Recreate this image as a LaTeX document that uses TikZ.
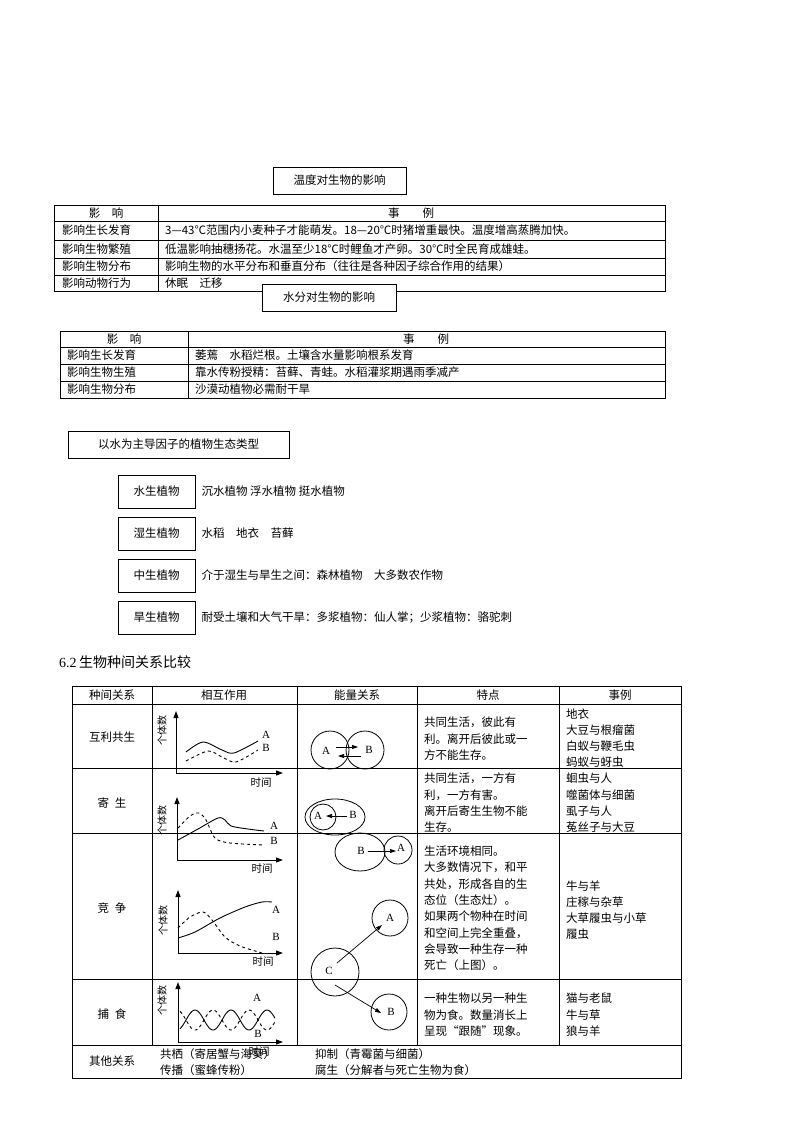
\documentclass[tikz,border=0pt]{standalone}
\usepackage{fontspec}
\setmainfont{Noto Sans CJK SC}
\newfontfamily\lat{Liberation Serif}
\usetikzlibrary{arrows.meta}
\begin{document}
\begin{tikzpicture}[x=1pt,y=-1pt,font=\fontsize{11.5}{13}\selectfont,
 t/.style={anchor=west,inner sep=0pt},
 c/.style={inner sep=0pt},
 tbox/.style={draw,line width=0.9pt,fill=white,inner sep=0pt},
 ln/.style={line width=0.6pt},
 ax/.style={line width=1pt,-{Triangle[length=7pt,width=5pt]}},
 ar/.style={line width=0.7pt,-{Triangle[length=6pt,width=4pt]}},
 lab/.style={inner sep=0pt,font=\lat\fontsize{11}{12}\selectfont},
 vt/.style={inner sep=0pt,rotate=90,font=\fontsize{10}{11}\selectfont},
 sm/.style={inner sep=0pt,font=\fontsize{10.5}{12}\selectfont}]
\useasboundingbox[fill=white] (0,0) rectangle (800,1132);

% ---------- Table 1
\draw[ln] (54,205) rectangle (665,291);
\foreach \y in {221,240,258,275} \draw[ln] (54,\y) -- (665,\y);
\draw[ln] (158,205) -- (158,291);
\node[c] (h1a) at (106,213) {影\quad 响};
\node[c] (h1b) at (411,213) {事\qquad 例};
\node[t] (r1a) at (62,230) {影响生长发育};
\node[t] (r1b) at (62,249) {影响生物繁殖};
\node[t] (r1c) at (62,266) {影响生物分布};
\node[t] (r1d) at (62,283) {影响动物行为};
\node[t] (e1a) at (165,230) {3—43℃范围内小麦种子才能萌发。18—20℃时猪增重最快。温度增高蒸腾加快。};
\node[t] (e1b) at (165,249) {低温影响抽穗扬花。水温至少18℃时鲤鱼才产卵。30℃时全民育成雄蛙。};
\node[t] (e1c) at (165,266) {影响生物的水平分布和垂直分布（往往是各种因子综合作用的结果）};
\node[t] (e1d) at (165,283) {休眠\quad 迁移};
\node[tbox,minimum width=133pt,minimum height=27pt] (T1) at (339.5,180.5) {温度对生物的影响};
\node[tbox,minimum width=134pt,minimum height=27pt] (T2) at (329,297.5) {水分对生物的影响};

% ---------- Table 2
\draw[ln] (60,331) rectangle (665,398);
\foreach \y in {347,364,381} \draw[ln] (60,\y) -- (665,\y);
\draw[ln] (188,331) -- (188,398);
\node[c] (h2a) at (124,339) {影\quad 响};
\node[c] (h2b) at (426,339) {事\qquad 例};
\node[t] (r2a) at (67,355.5) {影响生长发育};
\node[t] (r2b) at (67,372.5) {影响生物生殖};
\node[t] (r2c) at (67,389.5) {影响生物分布};
\node[t] (e2a) at (195,355.5) {萎蔫\quad 水稻烂根。土壤含水量影响根系发育};
\node[t] (e2b) at (195,372.5) {靠水传粉授精：苔藓、青蛙。水稻灌浆期遇雨季减产};
\node[t] (e2c) at (195,389.5) {沙漠动植物必需耐干旱};

% ---------- plant types
\node[tbox,minimum width=221pt,minimum height=27pt] (T3) at (178.5,444.5) {以水为主导因子的植物生态类型};
\foreach \n/\y/\a/\b in {p1/491.5/水生植物/沉水植物 浮水植物 挺水植物,
 p2/533.5/湿生植物/水稻\quad 地衣\quad 苔藓,
 p3/575.5/中生植物/介于湿生与旱生之间：森林植物\quad 大多数农作物,
 p4/617.5/旱生植物/耐受土壤和大气干旱：多浆植物：仙人掌；少浆植物：骆驼刺}{
 \node[tbox,minimum width=77pt,minimum height=33pt] (\n) at (156.5,\y) {\a};
 \node[t] (\n t) at ([xshift=6pt]\n.east) {\b};
}

\node[t,font=\fontsize{14}{16}\selectfont] (sec) at (59,662) {\lat 6.2\,\rmfamily 生物种间关系比较};

% ---------- Big table
\draw[ln] (72,686) rectangle (681,1078);
\foreach \y in {704,768,833,979,1045} \draw[ln] (72,\y) -- (681,\y);
\foreach \x in {152,297,417,559} \draw[ln] (\x,686) -- (\x,1045);
\node[c] (H1) at (112,695) {种间关系};
\node[c] (H2) at (224,695) {相互作用};
\node[c] (H3) at (357,695) {能量关系};
\node[c] (H4) at (488,695) {特点};
\node[c] (H5) at (620,695) {事例};
\node[c] (K1) at (112,737) {互利共生};
\node[c] (K2) at (112,803) {寄\enspace 生};
\node[c] (K3) at (112,908) {竞\enspace 争};
\node[c] (K4) at (112,1014) {捕\enspace 食};
\node[c] (K5) at (112,1061) {其他关系};

% graph 1
\coordinate (o1) at (176,773);
\draw[ax] (o1) -- (176,711);
\draw[ax] (o1) -- (283,773);
\node[vt] (v1) at (162,730) {个体数};
\node[sm] (tm1) at (261,783) {时间};
\draw[line width=0.9pt] plot[smooth] coordinates {(186,752) (203,742) (222,750) (234,753) (258,741)};
\draw[line width=0.9pt,dashed] plot[smooth] coordinates {(186,761) (208,751) (222,757) (236,762) (258,750)};
\node[lab] (gA1) at (266,735) {A};
\node[lab] (gB1) at (266,748) {B};
% energy 1
\node[draw,circle,minimum size=38pt,line width=0.8pt] (cA1) at (330,750) {};
\node[draw,circle,minimum size=38pt,line width=0.8pt] (cB1) at (365,750) {};
\node[lab] at (326,751) {A};
\node[lab] at (369,750) {B};
\draw[ar] (336,747) -- (358,747);
\draw[ar] (361,756) -- (338,756);

% graph 2
\coordinate (o2) at (177,860);
\draw[ax] (o2) -- (177,797);
\draw[ax] (o2) -- (283,860);
\node[vt] (v2) at (162,820) {个体数};
\node[sm] (tm2) at (262,869) {时间};
\draw[line width=0.9pt] plot[smooth] coordinates {(178,840) (198,829) (218,818) (225,820) (231,826) (248,829) (264,831)};
\draw[line width=0.9pt,dashed] plot[smooth] coordinates {(178,828) (190,816) (199,813) (206,820) (215,838) (230,843) (264,845)};
\node[lab] (gA2) at (274,826) {A};
\node[lab] (gB2) at (274,841) {B};
% energy 2
\draw[line width=0.8pt] (335,817) ellipse (30pt and 18pt);
\node[draw,circle,minimum size=26pt,line width=0.8pt] (cA2) at (323,817) {};
\node[lab] (eA2) at (318,816) {A};
\node[lab] (eB2) at (353,815) {B};
\draw[ar] (347,816) -- (326,816);
% energy 3
\draw[line width=0.8pt] (360,852) ellipse (25pt and 19pt);
\node[draw,circle,minimum size=28pt,line width=0.8pt] (cA3) at (398,850) {};
\node[lab] (eB3) at (361,851) {B};
\node[lab] (eA3) at (401,848) {A};
\draw[ar] (368,851) -- (396,851);

% graph 3
\coordinate (o3) at (178,953);
\draw[ax] (o3) -- (178,890);
\draw[ax] (o3) -- (283,953);
\node[vt] (v3) at (163,920) {个体数};
\node[sm] (tm3) at (263,962) {时间};
\draw[line width=0.9pt] plot[smooth] coordinates {(178,938) (195,932) (220,918) (245,907) (262,902) (272,902)};
\draw[line width=0.9pt,dashed] plot[smooth] coordinates {(178,928) (190,917) (203,912) (212,920) (225,937) (240,946) (262,953)};
\node[lab] (gA3) at (276,910) {A};
\node[lab] (gB3) at (276,937) {B};
% energy 4
\node[draw,circle,minimum size=36pt,line width=0.8pt] (cA4) at (390,918) {};
\node[draw,circle,minimum size=48pt,line width=0.8pt] (cC4) at (335,972) {};
\node[draw,circle,minimum size=36pt,line width=0.8pt] (cB4) at (389,1012) {};
\node[lab] at (390,918) {A};
\node[lab] at (329,971) {C};
\node[lab] at (391,1012) {B};
\draw[ar] (337,963) -- (382,925);
\draw[ar] (335,985) -- (381,1013);

% graph 4
\coordinate (o4) at (178,1042);
\draw[ax] (o4) -- (178,982);
\draw[ax] (o4) -- (283,1042);
\node[vt] (v4) at (162,1000) {个体数};
\draw[line width=0.9pt] plot[domain=0:95,samples=80,smooth] ({180+\x},{1020-10*sin((\x-6)*10)});
\draw[line width=0.9pt,dashed] plot[domain=0:95,samples=80,smooth] ({180+\x},{1020+10*sin((\x-6)*10)});
\node[lab] (gA4) at (257,998) {A};
\node[lab] (gB4) at (258,1034) {B};
\node[sm] (tm4) at (259,1052) {时间};

% characteristics
\foreach \y/\s in {722/共同生活，彼此有, 739/利。离开后彼此或一, 755/方不能生存。,
 778/共同生活，一方有, 795/利，一方有害。, 811/离开后寄生生物不能, 827/生存。,
 851/生活环境相同。, 867/大多数情况下，和平, 884/共处，形成各自的生, 900/态位（生态灶）。,
 916/如果两个物种在时间, 933/和空间上完全重叠，, 949/会导致一种生存一种, 965/死亡（上图）。,
 998/一种生物以另一种生, 1015/物为食。数量消长上, 1031/呈现“跟随”现象。}
 {\node[t] at (424,\y) {\s};}
\foreach \y/\s in {714/地衣, 730/大豆与根瘤菌, 746/白蚁与鞭毛虫, 762/蚂蚁与蚜虫,
 778/蛔虫与人, 795/噬菌体与细菌, 811/虱子与人, 827/菟丝子与大豆,
 886/牛与羊, 902/庄稼与杂草, 918/大草履虫与小草, 934/履虫,
 998/猫与老鼠, 1015/牛与草, 1031/狼与羊}
 {\node[t] at (566,\y) {\s};}
\node[t] (o5a) at (160,1054) {共栖（寄居蟹与海葵）};
\node[t] (o5b) at (160,1070) {传播（蜜蜂传粉）};
\node[t] (o5c) at (315,1054) {抑制（青霉菌与细菌）};
\node[t] (o5d) at (315,1070) {腐生（分解者与死亡生物为食）};
\end{tikzpicture}
\end{document}
